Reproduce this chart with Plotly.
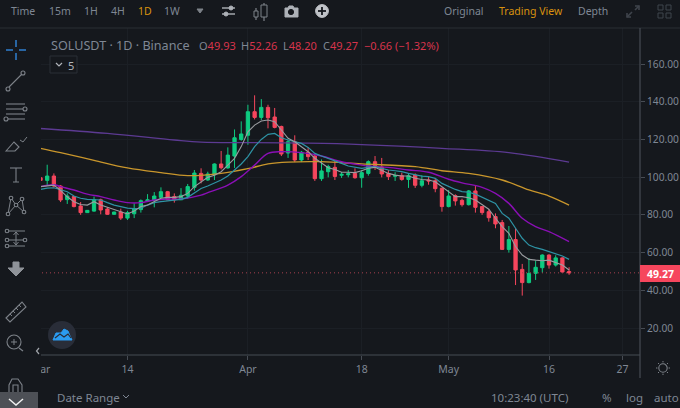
"""SOLUSDT daily candles with moving averages, in an exchange terminal frame."""

import pandas as pd
import plotly.graph_objects as go

# --- data ---
dates = pd.date_range("2022-03-01", periods=80, freq="D")

opens = [99.7, 98.3, 100.6, 95.3, 88.1, 89.7, 84.7, 81.2, 82.0, 88.0,
         83.1, 80.3, 81.5, 78.3, 80.6, 82.8, 87.2, 87.7, 89.3, 92.3,
         89.7, 88.0, 90.0, 94.6, 102.0, 98.5, 101.3, 107.0, 104.9, 111.2,
         120.0, 122.2, 134.7, 131.7, 137.0, 131.9, 126.9, 112.8, 118.8, 109.1,
         113.2, 111.2, 99.2, 102.9, 105.2, 101.0, 101.3, 102.0, 99.7, 102.0,
         108.2, 105.4, 101.9, 100.5, 100.8, 98.8, 101.1, 95.7, 98.5, 98.1,
         94.1, 84.4, 90.2, 87.7, 85.4, 92.7, 84.4, 81.7, 79.1, 75.9,
         61.7, 66.9, 51.1, 44.1, 49.0, 52.0, 58.7, 53.4, 57.2, 49.93]
highs = [100.0, 106.6, 102.0, 95.8, 91.4, 90.0, 86.8, 82.6, 89.7, 88.6,
         84.0, 81.7, 83.3, 82.2, 86.1, 88.2, 91.0, 92.1, 94.6, 92.7,
         91.4, 94.2, 96.4, 103.8, 104.7, 102.9, 107.3, 113.9, 115.8, 125.3,
         129.6, 138.4, 143.4, 141.4, 138.4, 136.7, 127.3, 120.0, 122.2, 113.9,
         116.0, 111.7, 109.4, 106.6, 108.7, 102.7, 103.8, 104.7, 103.8, 108.9,
         111.2, 110.2, 103.8, 102.6, 102.4, 102.0, 102.0, 101.0, 100.3, 99.4,
         94.4, 93.2, 90.9, 88.6, 93.2, 95.3, 84.7, 83.0, 80.8, 77.3,
         74.1, 72.9, 54.0, 57.0, 55.7, 59.1, 59.1, 58.6, 57.5, 52.26]
lows = [98.0, 95.8, 94.6, 86.8, 85.8, 84.0, 80.0, 81.0, 81.7, 80.3,
        80.0, 80.1, 77.3, 77.3, 78.3, 81.2, 86.8, 84.0, 88.8, 87.9,
        86.5, 87.9, 88.6, 92.8, 96.7, 98.1, 98.5, 104.1, 104.5, 104.9,
        119.3, 117.2, 130.6, 130.3, 125.9, 125.9, 111.2, 110.2, 108.0, 108.0,
        109.1, 98.0, 98.0, 99.9, 98.5, 99.6, 99.9, 99.2, 94.4, 100.8,
        103.8, 99.9, 98.5, 98.0, 98.1, 94.3, 94.3, 94.6, 96.0, 92.0,
        81.7, 84.0, 84.9, 84.4, 85.0, 81.2, 80.0, 76.4, 72.9, 61.4,
        60.0, 42.8, 37.2, 43.7, 45.5, 49.4, 51.5, 52.6, 49.4, 48.20]
closes = [98.3, 100.6, 95.3, 87.9, 90.0, 84.4, 81.2, 82.4, 88.0, 82.6,
          80.3, 81.5, 78.3, 81.2, 83.3, 87.5, 88.0, 90.0, 92.3, 88.0,
          88.0, 90.4, 95.0, 102.2, 98.5, 101.7, 107.0, 105.0, 111.7, 120.9,
          122.9, 134.7, 131.7, 137.0, 131.5, 126.4, 112.3, 118.8, 109.1, 113.2,
          110.9, 99.2, 103.3, 105.6, 100.4, 101.5, 101.8, 99.7, 102.4, 108.2,
          105.2, 101.7, 100.3, 100.8, 98.8, 100.8, 95.7, 98.1, 98.0, 93.9,
          84.4, 90.0, 87.4, 85.4, 92.7, 84.0, 81.2, 78.5, 75.2, 61.7,
          66.9, 50.8, 44.1, 49.0, 52.2, 58.7, 53.4, 57.2, 49.7, 49.27]

ma_gray = [95.0, 95.5, 95.8, 93.0, 89.6, 87.0, 85.5, 85.2, 87.0, 85.2,
           84.0, 82.6, 81.7, 80.5, 82.0, 84.4, 85.2, 87.0, 88.8, 89.3,
           89.3, 89.7, 91.4, 95.0, 97.6, 99.9, 101.0, 102.9, 106.4, 110.0,
           116.2, 124.0, 127.6, 129.8, 130.3, 129.4, 125.0, 120.6, 118.8, 116.2,
           113.5, 110.0, 107.3, 105.0, 104.1, 102.6, 102.6, 102.4, 103.4, 104.7,
           105.2, 103.8, 102.0, 101.1, 100.6, 100.6, 99.4, 98.8, 98.5, 97.6,
           95.0, 92.3, 89.7, 89.7, 89.1, 87.9, 85.2, 83.0, 78.2, 73.8,
           70.2, 63.2, 58.7, 56.4, 56.0, 55.7, 56.0, 54.7, 53.4, 50.8]
ma_teal = [93.5, 94.2, 94.4, 93.2, 92.3, 90.0, 88.8, 88.2, 88.2, 87.9,
           86.5, 85.2, 84.4, 83.6, 83.3, 83.5, 85.2, 86.5, 87.0, 87.4,
           87.7, 88.2, 89.3, 91.8, 94.0, 95.3, 96.7, 98.5, 100.6, 103.8,
           107.0, 110.9, 116.2, 120.0, 122.7, 123.2, 120.9, 119.7, 118.8, 117.9,
           115.8, 112.6, 111.2, 110.0, 108.6, 107.3, 105.9, 105.2, 104.7, 105.2,
           105.6, 104.7, 103.8, 103.4, 102.9, 102.0, 101.1, 100.6, 100.3, 99.4,
           96.7, 95.0, 93.5, 92.3, 92.0, 91.0, 89.3, 87.9, 86.1, 80.8,
           78.2, 72.9, 67.6, 64.0, 62.6, 61.7, 60.5, 59.6, 58.2, 56.4]

# the slow averages are read at fewer days
purple_days = [0, 2, 3, 5, 7, 9, 11, 13, 15, 17, 19, 21, 24, 25, 28, 30, 32, 34,
               36, 39, 42, 45, 48, 49, 52, 55, 58, 61, 63, 66, 68, 70, 72, 74, 76, 79]
ma_purple = [95.0, 96.0, 95.0, 93.2, 91.0, 89.7, 87.9, 86.5, 86.5, 87.9, 88.4, 88.4,
             90.5, 91.8, 95.8, 100.3, 106.4, 112.6, 113.5, 113.0, 111.2, 108.2,
             106.4, 105.9, 105.2, 103.8, 102.6, 98.9, 97.0, 94.6, 91.4, 86.1,
             78.2, 73.8, 71.1, 65.8]
gold_days = [0, 3, 8, 13, 18, 22, 27, 31, 34, 37, 42, 48, 56, 60, 64, 69, 73, 76, 79]
ma_gold = [115.3, 113.0, 108.9, 104.9, 102.4, 100.8, 102.0, 104.5, 107.0, 108.0,
           108.2, 107.0, 105.6, 103.4, 102.0, 98.5, 93.2, 90.0, 85.2]
violet_days = [0, 10, 20, 24, 31, 40, 48, 60, 70, 79]
ma_violet = [125.8, 123.2, 119.7, 118.6, 118.3, 118.0, 117.3, 115.3, 113.0, 108.0]

y_ticks = [20, 40, 60, 80, 100, 120, 140, 160]
x_tick_dates = ["2022-03-01", "2022-03-14", "2022-04-01", "2022-04-18",
                "2022-05-01", "2022-05-16", "2022-05-27"]
x_tick_labels = ["Mar", "14", "Apr", "18", "May", "16", "27"]
last_price = 49.27

# --- colours and frame geometry (pixels) ---
BG = "#15181d"
GRID = "#1b1f25"
AXIS = "#474c54"
TEXT = "#7f8794"
ICON = "#7d8289"
UP = "#0ecb81"
DOWN = "#f6465d"
RED_TXT = "#d8344c"
ORANGE = "#d9920f"
FONT = "Noto Sans"
W, H = 680, 408
L, R, T, B = 30, 640, 28, 355


def px(x):
    return (x - L) / (R - L)


def py(y):
    return (B - y) / (B - T)


shapes = []
notes = []


def rect(x0, y0, x1, y1, fill, line=None):
    shapes.append(dict(type="rect", xref="paper", yref="paper", layer="above",
                       x0=px(x0), x1=px(x1), y0=py(y0), y1=py(y1), fillcolor=fill,
                       line=dict(color=line or fill, width=1 if line else 0)))


def poly(points, color=ICON, width=1.1, fill=None, close=False):
    d = "M" + " L".join(f"{px(x):.5f},{py(y):.5f}" for x, y in points)
    if close:
        d += " Z"
    shapes.append(dict(type="path", xref="paper", yref="paper", layer="above", path=d,
                       line=dict(color=color, width=width),
                       fillcolor=fill or "rgba(0,0,0,0)"))


def circle(x, y, r, color=ICON, width=1.1, fill=None):
    shapes.append(dict(type="circle", xref="paper", yref="paper", layer="above",
                       x0=px(x - r), x1=px(x + r), y0=py(y - r), y1=py(y + r),
                       line=dict(color=color, width=width),
                       fillcolor=fill or BG))


def label(x, y, text, color=TEXT, size=10.5, anchor="left", bold=False):
    if bold:
        text = f"<b>{text}</b>"
    notes.append(dict(xref="paper", yref="paper", x=px(x - 1), y=py(y), text=text, showarrow=False,
                      xanchor=anchor, yanchor="middle", align=anchor,
                      font=dict(family=FONT, size=size, color=color)))


# --- frame panels, they also clip the axis at the left ---
rect(0, 0, 41, H, BG)
rect(0, 0, W, T, BG)
poly([(0, T), (W, T)], "#2a2e35", 1)
poly([(R, T), (R, 378)], AXIS, 1.2)
poly([(41, B), (R, B)], AXIS, 1.2)

# top bar
for x, text, color in [(10, "Time", TEXT), (48, "15m", TEXT), (83, "1H", TEXT),
                       (110, "4H", TEXT), (137, "1D", ORANGE), (163, "1W", TEXT)]:
    label(x, 11, text, color)
poly([(197, 9), (203, 9), (200, 13)], ICON, 1, ICON, True)
for y, knob in [(8, 231), (14, 226)]:
    poly([(222, y), (235, y)], "#aeb2b8", 1.4)
    circle(knob, y, 2, "#aeb2b8", 1, "#aeb2b8")
poly([(256, 8), (256, 20)], ICON, 1.2)
rect(254, 11, 258, 17, BG, ICON)
poly([(264, 3), (264, 21)], ICON, 1.2)
rect(261, 5, 267, 17, BG, ICON)
poly([(285, 8), (288, 8), (289, 6), (293, 6), (294, 8), (298, 8), (298, 17), (285, 17)],
     "#aeb2b8", 1, "#aeb2b8", True)
circle(291, 12, 2.6, BG, 1, BG)
circle(322, 11, 6.4, "#c0c3c8", 1, "#c0c3c8")
poly([(318, 11), (326, 11)], BG, 1.8)
poly([(322, 7), (322, 15)], BG, 1.8)
label(443, 11, "Original")
label(498, 11, "Trading View", ORANGE)
label(577, 11, "Depth")
poly([(627, 17), (632, 12)], "#3f444c", 1.6)
poly([(627, 13), (627, 17), (631, 17)], "#3f444c", 1.6)
poly([(635, 10), (639, 6)], "#3f444c", 1.6)
poly([(635, 6), (639, 6), (639, 10)], "#3f444c", 1.6)
for gx, gy in [(658, 5), (666, 5), (658, 13), (666, 13)]:
    rect(gx, gy, gx + 5, gy + 5, BG, "#3f444c")

# legend line and study counter
label(50, 45, "SOLUSDT · 1D · Binance", TEXT, 12.6)
for x, key, value in [(198, "O", "49.93"), (240, "H", "52.26"), (282, "L", "48.20"), (322, "C", "49.27")]:
    label(x, 45, f"{key}<span style='color:{RED_TXT}'>{value}</span>", TEXT, 11)
label(363, 45, "−0.66 (−1.32%)", RED_TXT, 11)
rect(50, 56, 77, 73, BG, "#2b2f36")
poly([(56, 63), (59, 66), (62, 63)], "#b0b4ba", 1.2)
label(67, 65, "5", "#b0b4ba", 11)

# left toolbar
for seg in [((6, 50), (13, 50)), ((19, 50), (26, 50)), ((16, 40), (16, 47)), ((16, 53), (16, 60))]:
    poly(seg, "#2f7fd0", 1.5)
poly([(9, 87), (22, 74)])
circle(8, 89, 2)
circle(23, 73, 2)
for y in [104, 114]:
    poly([(6, y), (25, y)])
poly([(6, 109), (23, 109)])
circle(25, 109, 2)
poly([(8, 119), (25, 119)])
circle(6, 119, 2)
poly([(6, 151), (14, 142), (19, 147), (15, 151)], ICON, 1.1, None, True)
poly([(20, 140), (23, 142), (27, 137)], ICON, 1)
poly([(10, 168), (22, 168)], ICON, 1.1)
poly([(16, 168), (16, 182)], ICON, 1.1)
poly([(13, 182), (19, 182)], ICON, 1)
poly([(8, 214), (11, 198), (16, 205), (22, 199), (24, 212), (16, 205), (8, 214)], ICON, 1)
for cx, cy in [(8, 214), (11, 198), (16, 205), (22, 199), (24, 212)]:
    circle(cx, cy, 1.8)
for y in [231, 240, 246]:
    poly([(9, y), (25, y)], ICON, 1)
    circle(7, y, 1.8)
circle(25, 240, 1.8)
poly([(16, 232), (16, 245)], ICON, 1)
poly([(13.5, 235), (16, 232), (18.5, 235)], ICON, 1)
poly([(13.5, 242), (16, 245), (18.5, 242)], ICON, 1)
poly([(13, 262), (19, 262), (19, 268), (24, 268), (16, 276), (8, 268), (13, 268)],
     "#8f9399", 1, "#8f9399", True)
poly([(6, 318), (22, 302), (26, 307), (10, 322)], ICON, 1.1, None, True)
for i in range(4):
    poly([(10 + 3 * i, 314 - 3 * i), (12 + 3 * i, 316 - 3 * i)], ICON, 1)
circle(14, 342, 7)
poly([(19, 348), (23, 351)], ICON, 1.3)
poly([(11, 342), (17, 342)], ICON, 1)
poly([(14, 339), (14, 345)], ICON, 1)
poly([(9, 393), (9, 385), (12, 379), (18, 379), (22, 385), (22, 393)])
poly([(13, 393), (13, 385), (18, 385), (18, 393)])
rect(0, 392, 38, H, "#4d5056")
poly([(9, 399), (16, 405), (23, 399)], "#f0f0f0", 1.5)

# collapse arrow and logo badge
poly([(39, 348), (36.5, 351), (39, 354)], "#a0a4aa", 1.2)
circle(62, 335, 14, "#292d38", 0, "#292d38")
poly([(53, 340), (56, 333), (61, 333), (64, 329), (68, 331), (70, 336), (72, 340)],
     "#2b9cf2", 1, "#2b9cf2", True)
poly([(55, 338), (60, 334), (64, 337), (68, 334), (71, 338)], "#292d38", 1.2)

# axis price tag
rect(640, 265, W, 282, DOWN)
label(661, 273.5, "49.27", "#ffffff", 10.5, "center", bold=True)

# bottom bar
circle(663, 368, 4.2)
for dx, dy in [(-7, 0), (7, 0), (0, -7), (0, 7), (-5, -5), (5, 5), (-5, 5), (5, -5)]:
    poly([(663 + dx * 0.8, 368 + dy * 0.8), (663 + dx, 368 + dy)], ICON, 1)
label(56, 397, "Date Range", TEXT, 11.5)
poly([(123, 395), (126, 398), (129, 395)], TEXT, 1)
label(490, 397, "10:23:40 (UTC)", TEXT, 11.5)
label(601, 397, "%", TEXT, 11.5)
label(625, 397, "log", TEXT, 11.5)
label(653, 397, "auto", TEXT, 11.5)

# --- figure ---
fig = go.Figure()
fig.add_trace(go.Candlestick(
    x=dates, open=opens, high=highs, low=lows, close=closes,
    increasing=dict(line=dict(color=UP, width=1), fillcolor=UP),
    decreasing=dict(line=dict(color=DOWN, width=1), fillcolor=DOWN),
    whiskerwidth=0, showlegend=False,
))
fig.add_trace(go.Scatter(x=dates[violet_days], y=ma_violet, mode="lines", showlegend=False,
                         line=dict(color="#5c3a92", width=1.3, shape="spline")))
fig.add_trace(go.Scatter(x=dates[gold_days], y=ma_gold, mode="lines", showlegend=False,
                         line=dict(color="#c9962c", width=1.3, shape="spline")))
fig.add_trace(go.Scatter(x=dates[purple_days], y=ma_purple, mode="lines", showlegend=False,
                         line=dict(color="#8a0fb5", width=1.4, shape="spline")))
fig.add_trace(go.Scatter(x=dates, y=ma_teal, mode="lines", showlegend=False,
                         line=dict(color="#2e93a5", width=1.2)))
fig.add_trace(go.Scatter(x=dates, y=ma_gray, mode="lines", showlegend=False,
                         line=dict(color="#9a9ca0", width=1.1)))
fig.add_hline(y=last_price, line=dict(color="#a8404f", width=1, dash="1px,3px"))

fig.update_layout(
    width=W, height=H, paper_bgcolor=BG, plot_bgcolor=BG,
    margin=dict(l=L, r=W - R, t=T, b=H - B, autoexpand=False),
    font=dict(family=FONT, size=10.5, color=TEXT),
    showlegend=False,
    xaxis=dict(range=["2022-02-27 10:20", "2022-05-29 14:24"], rangeslider=dict(visible=False),
               tickmode="array", tickvals=x_tick_dates, ticktext=x_tick_labels,
               ticks="outside", ticklen=4, tickcolor=AXIS, gridcolor=GRID, showline=False,
               zeroline=False, tickfont=dict(family=FONT, size=10.5, color=TEXT)),
    yaxis=dict(range=[5.7, 179.1], side="right", tickmode="array", tickvals=y_ticks,
               ticktext=[f"{v:.2f}" for v in y_ticks], ticks="outside", ticklen=4,
               tickcolor=AXIS, gridcolor=GRID, showline=False, zeroline=False,
               tickfont=dict(family=FONT, size=10.2, color=TEXT)),
)
fig.update_layout(shapes=list(fig.layout.shapes) + shapes, annotations=notes)
fig.write_html("out.html", config=dict(displayModeBar=False),
               post_script="document.body.style.margin='0';document.body.style.overflow='hidden';")
